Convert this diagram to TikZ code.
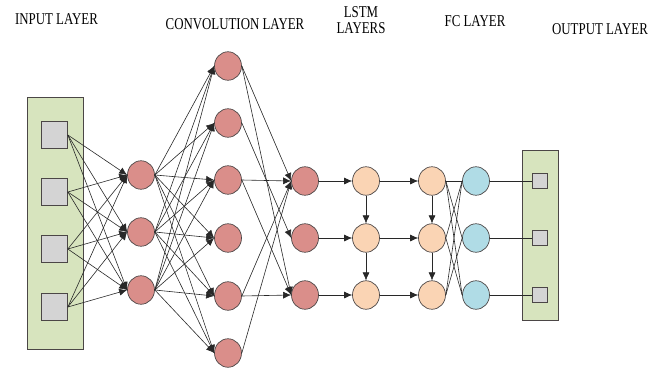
\documentclass[tikz,border=0pt]{standalone}
\usepackage{fontspec}
\setmainfont{Liberation Serif}
\newfontfamily\lblfont[FakeStretch=0.78]{Liberation Serif}
\usepackage{tikz}
\usetikzlibrary{arrows.meta,shapes.geometric}

\definecolor{convred}{RGB}{218,142,138}
\definecolor{lstmpeach}{RGB}{250,212,180}
\definecolor{fcblue}{RGB}{176,220,230}
\definecolor{boxgreen}{RGB}{215,228,190}
\definecolor{cellgray}{RGB}{212,212,212}
\definecolor{edgegray}{RGB}{75,70,70}
\definecolor{wiregray}{RGB}{40,40,40}

\begin{document}
\begin{tikzpicture}[x=1pt,y=-1pt,
        neuron/.style={ellipse,draw=edgegray,line width=0.7pt,minimum width=27pt,minimum height=28.5pt,inner sep=0pt},
        conv/.style={neuron,fill=convred},
        lstm/.style={neuron,fill=lstmpeach},
        fc/.style={neuron,fill=fcblue},
        cell/.style={rectangle,draw=edgegray,line width=0.7pt,fill=cellgray,inner sep=0pt},
        panel/.style={rectangle,draw=edgegray,line width=0.7pt,fill=boxgreen,inner sep=0pt},
        wire/.style={draw=wiregray,line width=0.6pt},
        arr/.style={wire,-{Latex[length=8pt,width=7pt]}},
        title/.style={font=\lblfont\fontsize{16.5}{16}\selectfont,align=center,inner sep=0pt,anchor=north}]
        \useasboundingbox (0,0) rectangle (662,370);
        % layer titles
        \node[title] (intitle) at (56.5,13) {INPUT LAYER};
        \node[title] (cvtitle) at (235,18) {CONVOLUTION LAYER};
        \node[title] (lstmtitle) at (361,6) {LSTM\\LAYERS};
        \node[title] (fctitle) at (475,15) {FC LAYER};
        \node[title] (outtitle) at (600,23) {OUTPUT LAYER};
        % boxes
        \node[panel,minimum width=56pt,minimum height=252pt] (inbox) at (55,223) {};
        \node[panel,minimum width=36pt,minimum height=170pt] (outbox) at (540,235) {};
        % nodes
        \foreach \y [count=\i] in {135,192,249,307}
            \node[cell,minimum width=26pt,minimum height=27pt] (in\i) at (54.5,\y) {};
        \foreach \y [count=\i] in {175,232,290}
            \node[conv] (cva\i) at (141,\y) {};
        \foreach \y [count=\i] in {66,123,180,238,296,353}
            \node[conv] (cvb\i) at (228,\y) {};
        \foreach \y [count=\i] in {181,238,295} {
            \node[conv] (cvc\i) at (305,\y) {};
            \node[lstm] (lsa\i) at (366,\y) {};
            \node[lstm] (lsb\i) at (432,\y) {};
            \node[fc] (fc\i) at (476,\y) {};
            \node[cell,minimum size=15pt] (out\i) at (540,\y) {};
        }
        % connections
        \foreach \i in {1,...,4}
            \foreach \j in {1,2,3}
                \draw[arr] (in\i.east) -- (cva\j.west);
        \foreach \i in {1,2,3}
            \foreach \j in {1,...,6}
                \draw[arr] (cva\i.east) -- (cvb\j.west);
        \foreach \i/\j in {1/1,1/3,2/2,3/1,3/3,5/1,5/3,6/1}
            \draw[arr] (cvb\i.east) -- (cvc\j.west);
        \foreach \i in {1,2,3} {
            \draw[arr] (cvc\i) -- (lsa\i);
            \draw[arr] (lsa\i) -- (lsb\i);
            \draw[wire] (fc\i) -- (out\i);
        }
        \foreach \i/\j in {1/2,2/3} {
            \draw[arr] (lsa\i) -- (lsa\j);
            \draw[arr] (lsb\i) -- (lsb\j);
        }
        \foreach \i/\j in {1/1,1/2,1/3,2/1,2/3,3/1,3/2}
            \draw[wire] (lsb\i.east) -- (fc\j.west);
\end{tikzpicture}
\end{document}
